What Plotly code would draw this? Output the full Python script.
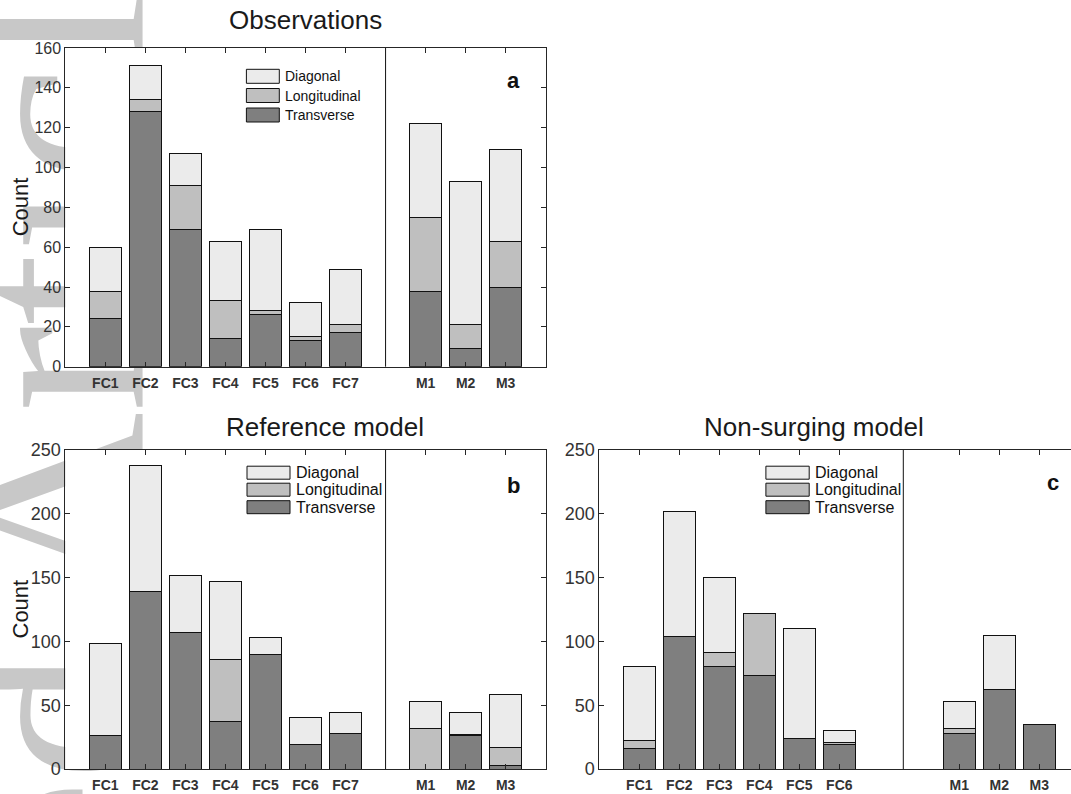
import plotly.graph_objects as go

# ---------------- data ----------------
fc_labels_7 = ["FC1", "FC2", "FC3", "FC4", "FC5", "FC6", "FC7"]
fc_labels_6 = ["FC1", "FC2", "FC3", "FC4", "FC5", "FC6"]
m_labels = ["M1", "M2", "M3"]

obs_transverse = [24, 128, 69, 14, 26, 13, 17, 38, 9, 40]
obs_longitudinal = [14, 6, 22, 19, 2, 2, 4, 37, 12, 23]
obs_diagonal = [22, 17, 16, 30, 41, 17, 28, 47, 72, 46]

ref_transverse = [26, 139, 107, 37, 90, 19, 28, 0, 26, 3]
ref_longitudinal = [0, 0, 0, 49, 0, 0, 0, 32, 1, 14]
ref_diagonal = [72, 99, 45, 61, 13, 21, 16, 21, 17, 41]

ns_transverse = [16, 104, 80, 73, 24, 19, 28, 62, 35]
ns_longitudinal = [6, 0, 11, 49, 0, 2, 4, 0, 0]
ns_diagonal = [58, 98, 59, 0, 86, 9, 21, 43, 0]

series_names = ["Transverse", "Longitudinal", "Diagonal"]
series_colors = ["#7f7f7f", "#bfbfbf", "#ebebeb"]

# ---------------- layout helpers ----------------
W, H = 1071, 794
def fx(p):
    return p / W
def fy(p):
    return 1 - p / H

FONT = "Arial, Liberation Sans, sans-serif"
AXC = "#262626"
TXT = "#333333"

def positions(n_fc):
    return list(range(1, n_fc + 1)) + [9, 10, 11]

fig = go.Figure()

panels = [
    dict(ax="", fc=fc_labels_7, data=[obs_transverse, obs_longitudinal, obs_diagonal],
         xd=[65.3, 545.7], yd=[48, 366.7], yr=[0, 160], dt=20, xr=[0, 12], div=8,
         tf=16, lf=14, mirror_y="ticks",
         leg_x=[246.4, 279.3], leg_y=[76.3, 95.5, 115.0], leg_h=14, leg_tx=283,
         title="Observations", title_xy=(305.5, 20.5), letter="a", letter_xy=(513, 80)),
    dict(ax="2", fc=fc_labels_7, data=[ref_transverse, ref_longitudinal, ref_diagonal],
         xd=[65.3, 545.7], yd=[450, 769], yr=[0, 250], dt=50, xr=[0, 12], div=8,
         tf=18, lf=16, mirror_y="ticks",
         leg_x=[247, 290], leg_y=[472.7, 489.7, 507.2], leg_h=13, leg_tx=293.6,
         title="Reference model", title_xy=(325, 427), letter="b", letter_xy=(513.5, 485)),
    dict(ax="3", fc=fc_labels_6, data=[ns_transverse, ns_longitudinal, ns_diagonal],
         xd=[599.3, 1071], yd=[450, 769], yr=[0, 250], dt=50, xr=[0, (1071 - 599.3) / 40], div=7.6,
         tf=18, lf=16, mirror_y=False,
         leg_x=[765.9, 809.2], leg_y=[472.7, 489.7, 507.2], leg_h=13, leg_tx=812.6,
         title="Non-surging model", title_xy=(813.6, 427), letter="c", letter_xy=(1052.5, 482)),
]

shapes = []
annotations = []

# watermark of the source page (behind everything)
shapes.append(dict(type="rect", xref="paper", yref="paper", layer="below",
                   x0=fx(22), x1=fx(32), y0=fy(760), y1=fy(750),
                   line=dict(width=0), fillcolor="rgba(0,0,0,0)",
                   label=dict(text="Accepted Article", textangle=-90, textposition="middle center",
                              font=dict(family="Liberation Serif, Times New Roman, serif",
                                        size=260, color="#c8c8c8"))))

for p in panels:
    ax = p["ax"]
    xa = "x" + ax
    ya = "y" + ax
    pos = positions(len(p["fc"]))
    labels = p["fc"] + m_labels
    # opaque white plot area (hides the watermark inside the axes)
    shapes.append(dict(type="rect", xref=xa + " domain", yref=ya + " domain", layer="below",
                       x0=0, x1=1, y0=0, y1=1, fillcolor="white", line=dict(width=0)))
    for vals, name, col in zip(p["data"], series_names, series_colors):
        fig.add_trace(go.Bar(x=pos, y=vals, name=name, width=0.8,
                             marker=dict(color=col, line=dict(color="#111111", width=1)),
                             xaxis=xa, yaxis=ya, showlegend=False))
    fig.layout["xaxis" + ax] = dict(
        domain=[fx(p["xd"][0]), fx(p["xd"][1])], range=p["xr"], anchor=ya,
        tickmode="array", tickvals=pos, ticktext=labels,
        ticks="inside", ticklen=5, tickcolor=AXC, tickwidth=1, ticklabelstandoff=3,
        showline=True, linecolor=AXC, linewidth=1, mirror="ticks",
        showgrid=False, zeroline=False, fixedrange=True, automargin=False,
        tickfont=dict(family=FONT, size=14, color=TXT, weight="bold"))
    fig.layout["yaxis" + ax] = dict(
        domain=[fy(p["yd"][1]), fy(p["yd"][0])], range=p["yr"], anchor=xa,
        dtick=p["dt"], tick0=0,
        ticks="inside", ticklen=5, tickcolor=AXC, tickwidth=1,
        showline=True, linecolor=AXC, linewidth=1, mirror=p["mirror_y"],
        showgrid=False, zeroline=False, fixedrange=True, automargin=False,
        tickfont=dict(family=FONT, size=p["tf"], color=TXT))
    # divider line
    shapes.append(dict(type="line", xref=xa, yref=ya + " domain", x0=p["div"], x1=p["div"],
                       y0=0, y1=1, line=dict(color="#111111", width=1)))
    # legend (manual, matches the boxed patches of the reference)
    for i, (name, col) in enumerate(zip(series_names[::-1], series_colors[::-1])):
        cy = p["leg_y"][i]
        shapes.append(dict(type="rect", xref="paper", yref="paper",
                           x0=fx(p["leg_x"][0]), x1=fx(p["leg_x"][1]),
                           y0=fy(cy + p["leg_h"] / 2), y1=fy(cy - p["leg_h"] / 2),
                           fillcolor=col, line=dict(color="#111111", width=1)))
        annotations.append(dict(xref="paper", yref="paper", x=fx(p["leg_tx"]), y=fy(cy),
                                xanchor="left", yanchor="middle", showarrow=False, text=name,
                                font=dict(family=FONT, size=p["lf"], color="#111111")))
    # title
    annotations.append(dict(xref="paper", yref="paper", x=fx(p["title_xy"][0]), y=fy(p["title_xy"][1]),
                            xanchor="center", yanchor="middle", showarrow=False, text=p["title"],
                            font=dict(family=FONT, size=26, color="#1a1a1a")))
    # panel letter
    annotations.append(dict(xref="paper", yref="paper", x=fx(p["letter_xy"][0]), y=fy(p["letter_xy"][1]),
                            xanchor="center", yanchor="middle", showarrow=False, text="<b>" + p["letter"] + "</b>",
                            font=dict(family=FONT, size=22, color="#111111")))
    # y-axis title
    if ax != "3":
        annotations.append(dict(xref="paper", yref="paper", x=fx(20),
                                y=fy((p["yd"][0] + p["yd"][1]) / 2),
                                xanchor="center", yanchor="middle", showarrow=False, text="Count",
                                textangle=-90, font=dict(family=FONT, size=22, color="#1a1a1a")))

fig.update_layout(
    width=W, height=H, margin=dict(l=0, r=0, t=0, b=0, pad=0, autoexpand=False),
    paper_bgcolor="white", plot_bgcolor="white",
    barmode="stack", showlegend=False,
    shapes=shapes, annotations=annotations,
)

fig.write_html("out.html", config={"displayModeBar": False},
               post_script="document.body.style.margin='0';document.body.style.overflow='hidden';")
